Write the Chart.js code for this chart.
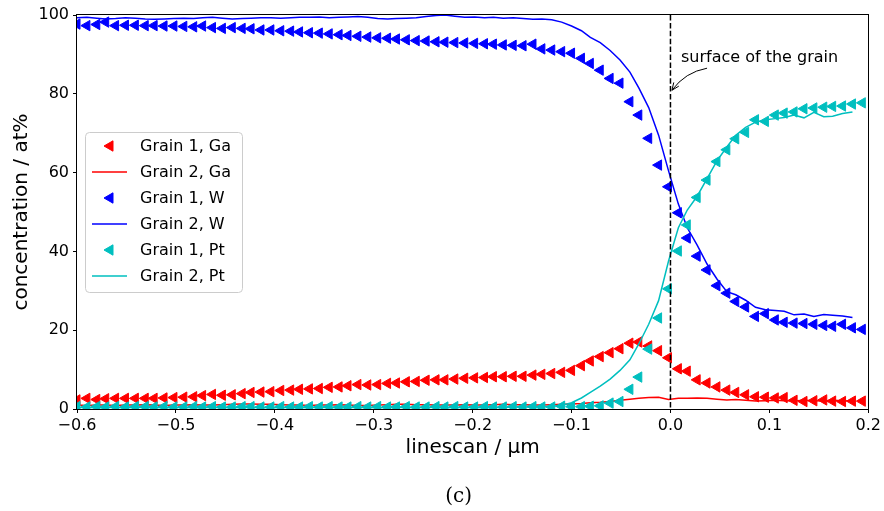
<!DOCTYPE html>
<html><head><meta charset="utf-8">
<script src="https://cdn.jsdelivr.net/npm/chart.js@4.4.1/dist/chart.umd.min.js"></script>
<style>html,body{margin:0;padding:0;background:#fff}#wrap{width:884px;height:511px}</style>
</head><body><div id="wrap"><canvas id="c" width="884" height="511"></canvas></div>
<script>
// ---- data ----
const positions = [
 -0.600,-0.590,-0.580,-0.571,-0.561,-0.551,-0.541,-0.531,-0.522,-0.512,
 -0.502,-0.492,-0.482,-0.473,-0.463,-0.453,-0.443,-0.433,-0.424,-0.414,
 -0.404,-0.394,-0.384,-0.375,-0.365,-0.355,-0.345,-0.335,-0.326,-0.316,
 -0.306,-0.296,-0.286,-0.277,-0.267,-0.257,-0.247,-0.237,-0.228,-0.218,
 -0.208,-0.198,-0.188,-0.179,-0.169,-0.159,-0.149,-0.139,-0.130,-0.120,
 -0.110,-0.100,-0.090,-0.081,-0.071,-0.061,-0.051,-0.041,-0.032,-0.022,
 -0.012,-0.002,0.008,0.017,0.027,0.037,0.047,0.057,0.066,0.076,
 0.086,0.096,0.106,0.115,0.125,0.135,0.145,0.155,0.164,0.174,
 0.184,0.194];

const gaGrain1 = [
 2.3,2.7,2.4,2.6,2.7,2.7,2.7,2.7,2.7,2.8,
 2.9,3.0,3.1,3.4,3.7,3.5,3.6,3.9,4.2,4.3,
 4.4,4.7,4.8,5.0,5.1,5.2,5.5,5.6,5.9,6.2,
 6.1,6.2,6.5,6.6,6.9,7.0,7.3,7.4,7.4,7.6,
 7.8,7.9,8.0,8.2,8.2,8.3,8.3,8.6,8.8,9.0,
 9.3,9.8,11.0,12.2,13.3,14.3,15.3,16.7,17.0,16.0,
 14.8,13.0,10.2,9.6,7.4,6.6,5.6,4.8,4.2,3.6,
 3.1,3.0,2.8,2.9,2.2,1.9,2.1,2.3,2.0,1.9,
 2.0,2.0];

const wGrain1 = [
 97.7,97.3,97.6,98.2,97.3,97.4,97.4,97.3,97.3,97.2,
 97.2,97.1,97.0,97.2,96.8,96.6,96.8,96.6,96.5,96.2,
 96.2,96.0,95.9,95.7,95.5,95.4,95.2,95.0,94.8,94.6,
 94.4,94.2,94.1,93.9,93.7,93.5,93.4,93.2,93.1,93.0,
 92.9,92.8,92.7,92.6,92.4,92.3,92.2,92.6,91.4,91.1,
 90.7,90.3,89.0,87.7,86.0,83.9,82.7,78.0,74.6,68.7,
 61.9,56.4,49.8,43.4,38.8,35.3,31.3,29.4,27.3,25.9,
 23.5,24.2,22.6,22.0,21.8,21.7,21.5,21.2,21.0,21.5,
 20.6,20.2];

const ptGrain1 = [
 0.6,0.5,0.6,0.5,0.6,0.5,0.6,0.6,0.5,0.6,
 0.5,0.5,0.6,0.5,0.6,0.5,0.5,0.6,0.6,0.5,
 0.5,0.6,0.5,0.5,0.6,0.5,0.6,0.5,0.5,0.6,
 0.5,0.6,0.5,0.5,0.6,0.5,0.5,0.6,0.5,0.6,
 0.5,0.5,0.6,0.5,0.5,0.6,0.5,0.6,0.5,0.5,
 0.7,0.6,0.6,0.7,0.8,1.5,1.9,5.0,8.1,15.2,
 23.1,30.5,40.1,46.7,53.7,58.1,62.8,65.8,68.6,70.2,
 73.4,73.0,74.6,75.1,75.4,76.2,76.4,76.6,76.8,76.9,
 77.4,77.7];

const gaGrain2 = [
 1.0,0.9,1.0,1.0,0.9,1.0,1.0,1.1,1.0,0.9,
 1.0,1.0,1.1,1.0,1.0,1.1,1.2,1.3,1.3,1.2,
 1.2,1.1,1.0,1.0,0.9,1.0,1.0,1.1,1.0,0.9,
 0.9,1.0,1.1,1.2,1.2,1.1,1.1,1.0,1.0,1.0,
 1.1,1.0,1.0,1.1,1.2,1.1,1.1,1.0,1.0,1.1,
 1.2,1.3,1.4,1.6,1.7,1.9,2.2,2.5,2.7,2.9,
 3.0,2.4,2.7,2.7,2.8,2.7,2.5,2.3,2.4,2.2,
 2.0,2.1,2.2,2.1,2.0,2.2,2.1,2.0,2.2,2.1,
 2.0];

const wGrain2 = [
 99.3,99.4,99.2,99.0,99.1,99.3,99.2,99.0,98.9,99.0,
 99.1,99.2,99.1,99.3,99.4,99.2,99.0,99.1,99.2,99.3,
 99.3,99.2,99.3,99.4,99.4,99.5,99.3,99.4,99.5,99.6,
 99.4,99.1,99.0,99.1,99.2,99.3,99.6,99.9,100.0,99.7,
 99.4,99.5,99.3,99.4,99.2,99.3,99.1,98.9,99.0,98.8,
 98.2,97.2,96.0,94.3,93.0,91.0,88.6,85.5,81.5,76.5,
 69.5,60.5,52.0,46.0,41.6,36.8,33.0,29.8,29.0,27.6,
 25.8,25.2,25.0,24.8,23.9,24.1,23.5,24.0,23.8,23.6,
 23.2];

const ptGrain2 = [
 0.4,0.4,0.3,0.4,0.4,0.3,0.4,0.4,0.4,0.3,
 0.4,0.4,0.3,0.4,0.4,0.4,0.3,0.4,0.4,0.4,
 0.3,0.4,0.4,0.3,0.4,0.4,0.4,0.3,0.4,0.4,
 0.4,0.3,0.4,0.4,0.4,0.3,0.4,0.4,0.3,0.4,
 0.4,0.4,0.3,0.4,0.4,0.5,0.5,0.5,0.6,0.7,
 0.9,1.6,2.8,4.2,5.8,7.6,9.8,12.5,16.5,21.5,
 27.5,37.5,46.0,50.5,54.0,58.5,63.0,66.5,69.5,71.5,
 72.8,73.4,73.7,74.0,74.6,73.9,75.3,74.2,74.3,75.0,
 75.4];

const seriesLabels = ['Grain 1, Ga','Grain 2, Ga','Grain 1, W','Grain 2, W','Grain 1, Pt','Grain 2, Pt'];
const xTicks = [-0.6,-0.5,-0.4,-0.3,-0.2,-0.1,0.0,0.1,0.2];
const xTickLabels = ['\u22120.6','\u22120.5','\u22120.4','\u22120.3','\u22120.2','\u22120.1','0.0','0.1','0.2'];
const yTicks = [0,20,40,60,80,100];
const yTickLabels = ['0','20','40','60','80','100'];
const annotationText = 'surface of the grain';
const xTitle = 'linescan / \u00b5m';
const yTitle = 'concentration / at%';
const caption = '(c)';

// ---- styling ----
const RED = '#ff0000', BLUE = '#0000ff', CYAN = '#00bfbf';
const FONT = '"DejaVu Sans", sans-serif';

function pairs(xs, ys) { return ys.map((y, i) => ({x: xs[i], y: y})); }

function markerSet(label, ys, color, order) {
  return {label, data: pairs(positions, ys), showLine: false, pointStyle: 'triangle', rotation: -90,
    pointRadius: 6, pointHoverRadius: 6, backgroundColor: color, borderColor: color, borderWidth: 1, order};
}
function lineSet(label, ys, color, order) {
  return {label, data: pairs(positions, ys), showLine: true, pointRadius: 0, pointHoverRadius: 0,
    borderColor: color, backgroundColor: color, borderWidth: 1.5, tension: 0, fill: false, order};
}

const datasets = [
  markerSet(seriesLabels[0], gaGrain1, RED, 6),
  lineSet(seriesLabels[1], gaGrain2, RED, 5),
  markerSet(seriesLabels[2], wGrain1, BLUE, 4),
  lineSet(seriesLabels[3], wGrain2, BLUE, 3),
  markerSet(seriesLabels[4], ptGrain1, CYAN, 2),
  lineSet(seriesLabels[5], ptGrain2, CYAN, 1)
];

function leftTriangle(ctx, x, y, r, color) {
  ctx.save();
  ctx.fillStyle = color; ctx.strokeStyle = color; ctx.lineWidth = 1;
  ctx.beginPath();
  for (let k = 0; k < 3; k++) {
    const a = -Math.PI / 2 + k * 2 * Math.PI / 3;
    const px = x + Math.sin(a) * r, py = y - Math.cos(a) * r;
    if (k === 0) ctx.moveTo(px, py); else ctx.lineTo(px, py);
  }
  ctx.closePath(); ctx.fill(); ctx.stroke();
  ctx.restore();
}

const decor = {
  id: 'decor',
  afterDatasetsDraw(chart) {
    const {ctx, chartArea: a, scales: {x, y}} = chart;
    // dashed surface line
    const x0 = x.getPixelForValue(0);
    ctx.save();
    ctx.strokeStyle = '#000'; ctx.lineWidth = 1.5; ctx.setLineDash([5.5, 2.4]);
    ctx.beginPath(); ctx.moveTo(x0, a.top); ctx.lineTo(x0, a.bottom); ctx.stroke();
    ctx.restore();
    // frame
    ctx.save();
    ctx.strokeStyle = '#000'; ctx.lineWidth = 1;
    ctx.strokeRect(Math.round(a.left) - 0.5, Math.round(a.top) - 0.5, Math.round(a.right - a.left) + 1, Math.round(a.bottom - a.top) + 1);
    ctx.restore();
  },
  afterDraw(chart) {
    const {ctx, chartArea: a, scales: {x, y}} = chart;
    // annotation
    ctx.save();
    ctx.fillStyle = '#000'; ctx.font = '16px ' + FONT; ctx.textBaseline = 'alphabetic';
    ctx.fillText(annotationText, x.getPixelForValue(0.0106), y.getPixelForValue(88.1));
    const sx = x.getPixelForValue(0.037), sy = y.getPixelForValue(86.5);
    const tx = x.getPixelForValue(0.0015), ty = y.getPixelForValue(80.9);
    const mx = (sx + tx) / 2, my = (sy + ty) / 2;
    const dx = tx - sx, dy = ty - sy;
    const cx = mx - dy * 0.2, cy = my + dx * 0.2;
    ctx.strokeStyle = '#000'; ctx.lineWidth = 1;
    ctx.beginPath(); ctx.moveTo(sx, sy); ctx.quadraticCurveTo(cx, cy, tx, ty); ctx.stroke();
    const ang = Math.atan2(ty - cy, tx - cx);
    const hl = 8, hw = 0.4;
    ctx.beginPath();
    ctx.moveTo(tx - hl * Math.cos(ang - hw), ty - hl * Math.sin(ang - hw));
    ctx.lineTo(tx, ty);
    ctx.lineTo(tx - hl * Math.cos(ang + hw), ty - hl * Math.sin(ang + hw));
    ctx.stroke();
    ctx.restore();

    // legend
    const lx = 85.5, ly = 132.5, lw = 157, lh = 160, rr = 4;
    ctx.save();
    ctx.fillStyle = 'rgba(255,255,255,0.8)'; ctx.strokeStyle = '#cccccc'; ctx.lineWidth = 1;
    ctx.beginPath();
    ctx.moveTo(lx + rr, ly); ctx.lineTo(lx + lw - rr, ly); ctx.arcTo(lx + lw, ly, lx + lw, ly + rr, rr);
    ctx.lineTo(lx + lw, ly + lh - rr); ctx.arcTo(lx + lw, ly + lh, lx + lw - rr, ly + lh, rr);
    ctx.lineTo(lx + rr, ly + lh); ctx.arcTo(lx, ly + lh, lx, ly + lh - rr, rr);
    ctx.lineTo(lx, ly + rr); ctx.arcTo(lx, ly, lx + rr, ly, rr);
    ctx.closePath(); ctx.fill(); ctx.stroke();
    chart.data.datasets.forEach((ds, i) => {
      const yy = 146 + i * 26;
      if (ds.showLine) {
        ctx.strokeStyle = ds.borderColor; ctx.lineWidth = 1.5;
        ctx.beginPath(); ctx.moveTo(92, yy); ctx.lineTo(127, yy); ctx.stroke();
      } else {
        leftTriangle(ctx, 110, yy, 6, ds.backgroundColor);
      }
      ctx.fillStyle = '#000'; ctx.font = '16px ' + FONT; ctx.textBaseline = 'middle'; ctx.textAlign = 'left';
      ctx.fillText(ds.label, 140, yy + 1);
    });
    ctx.restore();

    // caption
    ctx.save();
    ctx.fillStyle = '#000'; ctx.font = '20px "DejaVu Serif", serif'; ctx.textAlign = 'center'; ctx.textBaseline = 'middle';
    ctx.fillText(caption, (a.left + a.right) / 2 - 14, 497);
    ctx.restore();
  }
};

new Chart(document.getElementById('c'), {
  type: 'scatter',
  data: {datasets},
  options: {
    responsive: false, animation: false, devicePixelRatio: 1,
    layout: {padding: {left: 0, right: 15, top: 15, bottom: 51}},
    plugins: {legend: {display: false}, tooltip: {enabled: false}},
    scales: {
      x: {
        type: 'linear', min: -0.6, max: 0.2,
        afterFit(s) { s.height = 51; },
        afterBuildTicks(s) { s.ticks = xTicks.map(v => ({value: v})); },
        ticks: {callback: (v, i) => xTickLabels[i], color: '#000', font: {family: FONT, size: 16}, padding: 3, maxRotation: 0, autoSkip: false},
        grid: {drawOnChartArea: false, drawTicks: true, tickLength: 4, color: '#000', lineWidth: 1},
        border: {display: false},
        title: {display: true, text: xTitle, color: '#000', font: {family: FONT, size: 20}, padding: {top: 0, bottom: 0}}
      },
      y: {
        type: 'linear', min: 0, max: 100,
        afterFit(s) { s.width = 77; },
        afterBuildTicks(s) { s.ticks = yTicks.map(v => ({value: v})); },
        ticks: {callback: (v, i) => yTickLabels[i], color: '#000', font: {family: FONT, size: 16}, padding: 4, autoSkip: false},
        grid: {drawOnChartArea: false, drawTicks: true, tickLength: 4, color: '#000', lineWidth: 1},
        border: {display: false},
        title: {display: true, text: yTitle, color: '#000', font: {family: FONT, size: 20}, padding: {top: 10, bottom: 0}}
      }
    }
  },
  plugins: [decor]
});
</script>
</body></html>
